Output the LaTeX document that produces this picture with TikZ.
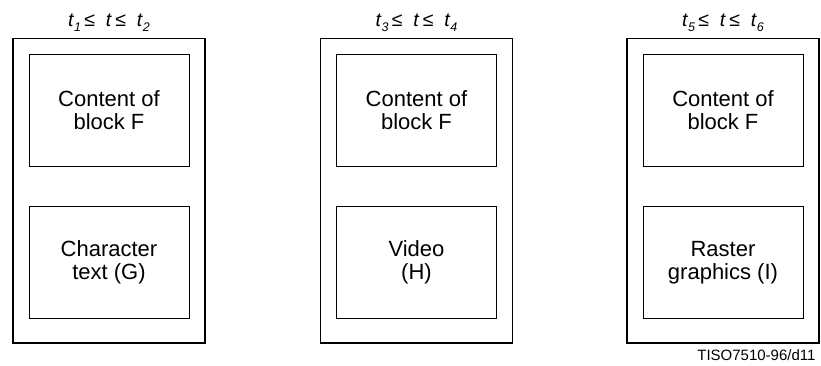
\documentclass[tikz,border=0pt]{standalone}
\usepackage{fontspec}
\setmainfont{Liberation Sans}
\newcommand{\lowsub}[1]{\raisebox{-0.3em}{\fontsize{12.5}{12.5}\selectfont\textit{#1}}}
\begin{document}
\begin{tikzpicture}[x=1pt,y=-1pt,
  outerbox/.style={draw,line width=1.3pt,minimum width=192pt,minimum height=304.5pt,inner sep=0pt},
  innerbox/.style={draw,line width=1pt,minimum width=160pt,minimum height=112pt,inner sep=0pt,
    align=center,font=\fontsize{22}{23.5}\selectfont},
  header/.style={anchor=base,font=\fontsize{19.5}{21}\selectfont},
  tag/.style={anchor=base east,font=\fontsize{15}{16}\selectfont}]
\useasboundingbox (0,0) rectangle (821,365);
\foreach \n/\cx/\a/\b/\txt in {1/109/1/2/{Character\\text (G)},2/416.5/3/4/{Video\\(H)},3/723/5/6/{Raster\\graphics (I)}}{
  \node[outerbox] (o\n) at (\cx,190.75) {};
  \node[innerbox] (f\n) at (\cx,110) {Content of\\block F};
  \node[innerbox] (g\n) at (\cx,262.5) {\txt};
  \node[header] (h\n) at (\cx,26) {\textit{t}\lowsub{\a}\,≤\ \ \textit{t}\,≤\ \ \textit{t}\lowsub{\b}};
}
\node[tag] (lab) at (819,360) {TISO7510-96/d11};
\end{tikzpicture}
\end{document}
